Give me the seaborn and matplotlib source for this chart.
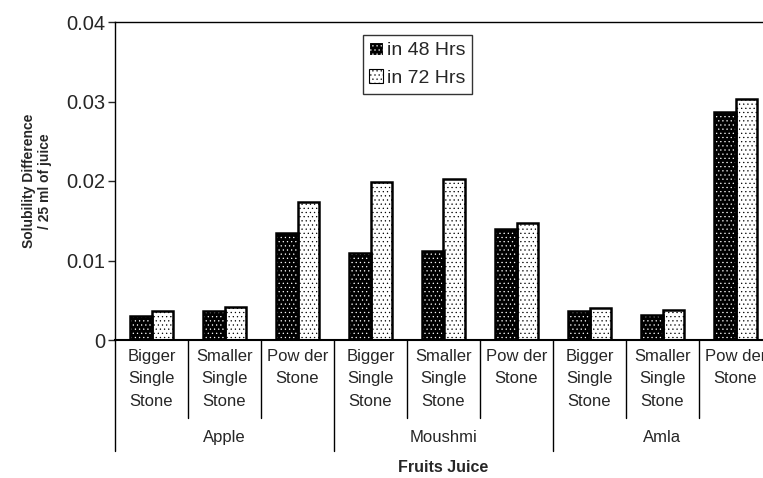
import pandas as pd
import seaborn as sns
import matplotlib.pyplot as plt
from matplotlib.patches import Patch, Rectangle

# data
fruits = ['Apple', 'Moushmi', 'Amla']
stones = ['Bigger\nSingle\nStone', 'Smaller\nSingle\nStone', 'Pow der\nStone']
hrs48 = [0.0030, 0.0036, 0.0134, 0.0110, 0.0112, 0.0139, 0.0036, 0.0031, 0.0287]
hrs72 = [0.0036, 0.0042, 0.0173, 0.0199, 0.0203, 0.0147, 0.0040, 0.0038, 0.0303]
series = ['in 48 Hrs', 'in 72 Hrs']

cats = [f + '|' + s for f in fruits for s in stones]
df = pd.DataFrame({
    'cat': cats * 2,
    'value': hrs48 + hrs72,
    'series': [series[0]] * len(cats) + [series[1]] * len(cats),
})

sns.set_style('white')
plt.rcParams['font.family'] = ['Liberation Sans', 'DejaVu Sans']
plt.rcParams['hatch.linewidth'] = 0.4

fig = plt.figure(figsize=(7.63, 4.78), dpi=100)
ax = fig.add_axes([115 / 763, 1 - 340 / 478, 657 / 763, 318 / 478])

sns.barplot(data=df, x='cat', y='value', hue='series', order=cats,
            hue_order=series, palette=['black', 'white'], width=0.58,
            legend=False, ax=ax)

# style the bars: black with white dots, white with black dots
for i, cont in enumerate(ax.containers):
    for bar in cont:
        if i == 0:
            bar.set_facecolor('black')
            bar.set_edgecolor('white')
        else:
            bar.set_facecolor('white')
            bar.set_edgecolor('black')
        bar.set_hatch('....')
        bar.set_linewidth(0)
        ax.add_patch(Rectangle(bar.get_xy(), bar.get_width(), bar.get_height(),
                               fill=False, ec='black', lw=1.8))

ax.set_xlim(-0.5, len(cats) - 0.5)
ax.set_ylim(0, 0.04)
ax.set_yticks([0, 0.01, 0.02, 0.03, 0.04])
ax.set_yticklabels(['0', '0.01', '0.02', '0.03', '0.04'], fontsize=14.5)
ax.tick_params(axis='y', direction='out', length=5, width=1, pad=2, left=True)
ax.set_xticks(range(len(cats)))
ax.set_xticklabels([])
ax.tick_params(axis='x', direction='in', length=4, width=1, bottom=True)
for sp in ax.spines.values():
    sp.set_color('black')
    sp.set_linewidth(1)
ax.spines['bottom'].set_linewidth(1.5)

ax.set_xlabel('')
ax.set_ylabel('Solubility Difference\n/ 25 ml of juice', fontsize=10,
              fontweight='bold', labelpad=10)

# two-level category axis
tr = ax.get_xaxis_transform()
for i, c in enumerate(cats):
    ax.text(i, -0.027, c.split('|')[1], transform=tr, ha='center', va='top',
            fontsize=12, linespacing=1.65)
for k in range(len(cats) + 1):
    x = k - 0.5
    low = -0.35 if k % 3 == 0 else -0.245
    ax.plot([x, x], [0, low], transform=tr, color='black', lw=1, clip_on=False)
for g, f in enumerate(fruits):
    ax.text(g * 3 + 1, -0.308, f, transform=tr, ha='center', va='center',
            fontsize=12)
ax.text(0.5, -0.402, 'Fruits Juice', transform=ax.transAxes, ha='center',
        va='center', fontsize=11.5, fontweight='bold')

handles = [Patch(facecolor='black', edgecolor='white', hatch='....'),
           Patch(facecolor='white', edgecolor='black', hatch='....')]
leg = ax.legend(handles, series, loc='upper left', bbox_to_anchor=(0.377, 0.959),
                borderaxespad=0, fontsize=14, frameon=True, fancybox=False,
                handlelength=0.7, handleheight=0.7, handletextpad=0.2,
                labelspacing=0.5, borderpad=0.35)
leg.get_frame().set_edgecolor('black')
leg.get_frame().set_linewidth(1)
for h in leg.legend_handles:
    h.set_linewidth(0.8)

fig.savefig('out.png', dpi=100)
